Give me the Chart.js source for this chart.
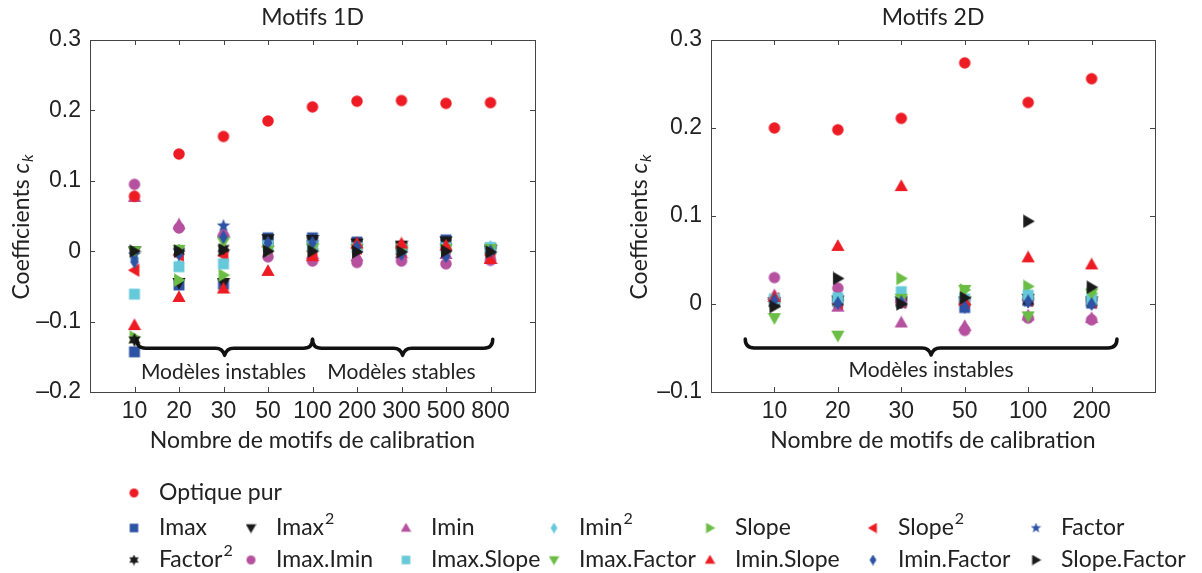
<!DOCTYPE html>
<html>
<head>
<meta charset="utf-8">
<script src="https://cdn.jsdelivr.net/npm/chart.js@4.4.1/dist/chart.umd.min.js"></script>
<style>
    body { margin: 0; background: #fff; }
    #pagina { position: relative; width: 1202px; height: 573px; }
    canvas { position: absolute; }
</style>
</head>
<body>
<div id="pagina">
    <canvas id="graf1D" width="600" height="470" style="left:0;top:0"></canvas>
    <canvas id="graf2D" width="602" height="470" style="left:600px;top:0"></canvas>
    <canvas id="leyenda" width="1202" height="103" style="left:0;top:470px"></canvas>
</div>
<script>
// categorias (nombre de motifs de calibration)
const motifs1D = ["10", "20", "30", "50", "100", "200", "300", "500", "800"];
const motifs2D = ["10", "20", "30", "50", "100", "200"];

const nombres = ["Optique pur", "Imax", "Imax²", "Imin", "Imin²", "Slope", "Slope²", "Factor",
    "Factor²", "Imax.Imin", "Imax.Slope", "Imax.Factor", "Imin.Slope", "Imin.Factor", "Slope.Factor"];

// valores Motifs 1D
const optique1D     = [0.078, 0.138, 0.163, 0.185, 0.205, 0.213, 0.214, 0.210, 0.211];
const imax1D        = [-0.143, -0.048, -0.047, 0.019, 0.019, 0.013, 0.006, 0.016, 0.004];
const imax2_1D      = [0.000, -0.045, -0.045, 0.017, 0.016, 0.011, 0.008, 0.014, 0.002];
const imin1D        = [0.077, 0.038, 0.027, 0.013, -0.004, -0.007, -0.003, -0.004, -0.011];
const imin2_1D      = [-0.010, -0.020, -0.015, 0.010, 0.010, 0.004, 0.004, 0.006, 0.006];
const slope1D       = [-0.122, -0.041, -0.034, 0.001, 0.003, 0.002, 0.002, 0.002, 0.003];
const slope2_1D     = [-0.027, -0.006, -0.006, 0.006, 0.000, 0.004, -0.004, 0.005, -0.006];
const factor1D      = [-0.005, 0.000, 0.036, 0.014, 0.012, 0.006, 0.004, 0.008, 0.002];
const factor2_1D    = [-0.126, 0.000, 0.004, 0.015, 0.015, 0.010, 0.007, 0.012, 0.001];
const imaxImin1D    = [0.095, 0.033, 0.022, -0.008, -0.014, -0.016, -0.014, -0.018, -0.013];
const imaxSlope1D   = [-0.061, -0.022, -0.018, 0.008, 0.007, 0.005, 0.003, 0.005, 0.005];
const imaxFactor1D  = [0.000, 0.002, 0.013, 0.001, 0.004, 0.003, 0.002, 0.003, 0.003];
const iminSlope1D   = [-0.105, -0.065, -0.053, -0.028, -0.007, 0.011, 0.011, 0.008, -0.011];
const iminFactor1D  = [-0.015, -0.004, 0.020, 0.012, 0.012, 0.006, -0.004, -0.007, 0.000];
const slopeFactor1D = [0.000, 0.000, 0.002, 0.000, 0.000, -0.001, -0.001, 0.000, -0.001];

// valores Motifs 2D
const optique2D     = [0.200, 0.198, 0.211, 0.274, 0.229, 0.256];
const imax2D        = [0.003, 0.003, 0.002, -0.004, 0.004, 0.001];
const imax2_2D      = [0.002, 0.004, 0.003, 0.003, 0.006, 0.003];
const imin2D        = [0.010, -0.003, -0.021, -0.025, -0.013, -0.016];
const imin2_2D      = [0.004, 0.006, 0.005, 0.004, 0.010, 0.008];
const slope2D       = [0.002, 0.004, 0.029, 0.016, 0.020, 0.012];
const slope2_2D     = [0.006, 0.001, 0.002, 0.002, 0.004, 0.002];
const factor2D      = [0.003, 0.002, 0.002, 0.002, 0.003, 0.002];
const factor2_2D    = [0.001, 0.003, 0.002, 0.003, 0.003, 0.002];
const imaxImin2D    = [0.030, 0.018, 0.002, -0.030, -0.016, -0.018];
const imaxSlope2D   = [0.006, 0.007, 0.014, 0.006, 0.010, 0.005];
const imaxFactor2D  = [-0.016, -0.036, 0.006, 0.016, -0.014, 0.012];
const iminSlope2D   = [0.008, 0.066, 0.134, 0.004, 0.053, 0.045];
const iminFactor2D  = [0.004, 0.001, 0.002, -0.003, 0.003, 0.000];
const slopeFactor2D = [-0.003, 0.029, 0.000, 0.007, 0.094, 0.019];

const valores1D = [optique1D, imax1D, imax2_1D, imin1D, imin2_1D, slope1D, slope2_1D, factor1D,
    factor2_1D, imaxImin1D, imaxSlope1D, imaxFactor1D, iminSlope1D, iminFactor1D, slopeFactor1D];
const valores2D = [optique2D, imax2D, imax2_2D, imin2D, imin2_2D, slope2D, slope2_2D, factor2D,
    factor2_2D, imaxImin2D, imaxSlope2D, imaxFactor2D, iminSlope2D, iminFactor2D, slopeFactor2D];

const ROJO = "#ed1c24", AZUL = "#2e52a4", NEGRO = "#1a1a1a", MORADO = "#b5519f",
      CIAN = "#66c9d9", VERDE = "#6bbd45";
const estilos = [
    ["circulo", ROJO], ["cuadro", AZUL], ["trAbajo", NEGRO], ["trArriba", MORADO], ["rombo", CIAN],
    ["trDerecha", VERDE], ["trIzquierda", ROJO], ["estrella5", AZUL], ["estrella6", NEGRO],
    ["circulo", MORADO], ["cuadro", CIAN], ["trAbajo", VERDE], ["trArriba", ROJO], ["rombo", AZUL],
    ["trDerecha", NEGRO]
];

function marcador(forma, color, s) {
    const c = document.createElement("canvas");
    c.width = s; c.height = s;
    const g = c.getContext("2d");
    g.fillStyle = color;
    g.translate(s / 2, s / 2);
    const r = s / 2;
    g.beginPath();
    const triangulo = (ang) => {
        g.rotate(ang);
        g.moveTo(0, -r * 0.95);
        g.lineTo(r * 0.95, r * 0.7);
        g.lineTo(-r * 0.95, r * 0.7);
        g.closePath();
    };
    const estrella = (puntas, interno) => {
        for (let i = 0; i < puntas * 2; i++) {
            const rr = i % 2 === 0 ? r : r * interno;
            const a = -Math.PI / 2 + i * Math.PI / puntas;
            if (i === 0) g.moveTo(rr * Math.cos(a), rr * Math.sin(a));
            else g.lineTo(rr * Math.cos(a), rr * Math.sin(a));
        }
        g.closePath();
    };
    switch (forma) {
        case "circulo": g.arc(0, 0, r * 0.82, 0, Math.PI * 2); break;
        case "cuadro": g.rect(-r * 0.78, -r * 0.78, r * 1.56, r * 1.56); break;
        case "trArriba": triangulo(0); break;
        case "trAbajo": triangulo(Math.PI); break;
        case "trDerecha": triangulo(Math.PI / 2); break;
        case "trIzquierda": triangulo(-Math.PI / 2); break;
        case "rombo":
            g.moveTo(0, -r); g.lineTo(r * 0.62, 0); g.lineTo(0, r); g.lineTo(-r * 0.62, 0); g.closePath();
            break;
        case "estrella5": estrella(5, 0.42); break;
        case "estrella6": estrella(6, 0.55); break;
    }
    g.fill();
    return c;
}

const marcadores = estilos.map(([f, c]) => marcador(f, c, 14));
const marcadoresLeyenda = estilos.map(([f, c]) => marcador(f, c, 11));

function construirDatasets(valores) {
    return valores.map((serie, i) => ({
        label: nombres[i],
        data: serie.map((v, j) => ({ x: j + 1, y: v })),
        pointStyle: marcadores[i],
        pointRadius: 7,
        order: i === 0 ? 0 : nombres.length - i
    }));
}

const fuenteTicks = { family: "Liberation Sans", size: 23 };
const TEXTO = "#222";

function formatoY(v) {
    const r = Math.round(v * 10) / 10;
    if (r === 0) return "0";
    return (r < 0 ? "–" : "") + Math.abs(r).toFixed(1);
}

// marco, ticks interiores, titulos y llaves
function marcoPlugin(cfg) {
    return {
        id: "marco",
        afterDraw(chart) {
            const ctx = chart.ctx;
            const a = chart.chartArea;
            const sx = chart.scales.x, sy = chart.scales.y;
            ctx.save();
            ctx.strokeStyle = "#444";
            ctx.lineWidth = 1;
            ctx.strokeRect(a.left + 0.5, a.top + 0.5, a.right - a.left, a.bottom - a.top);
            ctx.beginPath();
            for (let i = 1; i <= cfg.categorias.length; i++) {
                const px = Math.round(sx.getPixelForValue(i)) + 0.5;
                ctx.moveTo(px, a.bottom); ctx.lineTo(px, a.bottom - 5);
                ctx.moveTo(px, a.top); ctx.lineTo(px, a.top + 5);
            }
            sy.ticks.forEach(t => {
                const py = Math.round(sy.getPixelForValue(t.value)) + 0.5;
                ctx.moveTo(a.left, py); ctx.lineTo(a.left + 5, py);
                ctx.moveTo(a.right, py); ctx.lineTo(a.right - 5, py);
            });
            ctx.stroke();

            const cx = (a.left + a.right) / 2;
            ctx.fillStyle = TEXTO;
            ctx.textAlign = "center";
            ctx.textBaseline = "middle";
            ctx.font = "23px Lato";
            ctx.fillText(cfg.titulo, cx, 18);
            ctx.fillText("Nombre de motifs de calibration", cx, 441);

            // titulo eje y: Coefficients c_k
            ctx.save();
            ctx.translate(cfg.ejeYx, 227);
            ctx.rotate(-Math.PI / 2);
            ctx.textAlign = "left";
            ctx.font = "23px Lato";
            const t1 = "Coefficients ";
            const w1 = ctx.measureText(t1).width;
            ctx.font = "italic 23px Lato";
            const w2 = ctx.measureText("c").width;
            ctx.font = "italic 16px Lato";
            const w3 = ctx.measureText("k").width;
            const x0 = -(w1 + w2 + w3 + 1) / 2;
            ctx.font = "23px Lato";
            ctx.fillText(t1, x0, 0);
            ctx.font = "italic 23px Lato";
            ctx.fillText("c", x0 + w1, 0);
            ctx.font = "italic 16px Lato";
            ctx.fillText("k", x0 + w1 + w2 + 1, 6);
            ctx.restore();

            // llaves
            ctx.strokeStyle = "#111";
            ctx.lineWidth = 3.5;
            ctx.lineJoin = "round";
            ctx.lineCap = "round";
            cfg.llaves.forEach(l => {
                const x1 = sx.getPixelForValue(l.desde), x2 = sx.getPixelForValue(l.hasta);
                const xm = (x1 + x2) / 2, y = sy.getPixelForValue(l.y), h = 9;
                ctx.beginPath();
                ctx.moveTo(x1, y - h);
                ctx.quadraticCurveTo(x1, y, x1 + h, y);
                ctx.lineTo(xm - h, y);
                ctx.quadraticCurveTo(xm - 2, y, xm, y + 7);
                ctx.quadraticCurveTo(xm + 2, y, xm + h, y);
                ctx.lineTo(x2 - h, y);
                ctx.quadraticCurveTo(x2, y, x2, y - h);
                ctx.stroke();
            });
            ctx.font = "21px Lato";
            ctx.textAlign = "center";
            cfg.textos.forEach(t => {
                ctx.fillText(t.t, sx.getPixelForValue(t.x), sy.getPixelForValue(t.y));
            });
            ctx.restore();
        }
    };
}

function crearGrafica(id, categorias, valores, cfg) {
    new Chart(document.getElementById(id), {
        type: "scatter",
        data: { datasets: construirDatasets(valores) },
        options: {
            responsive: false,
            animation: false,
            layout: { padding: { left: 0, top: 40, right: cfg.derecha, bottom: 0 } },
            plugins: { legend: { display: false }, tooltip: { enabled: false } },
            scales: {
                x: {
                    type: "linear", min: 0, max: categorias.length + 1,
                    grid: { display: false, drawTicks: false },
                    border: { display: false },
                    ticks: {
                        stepSize: 1, autoSkip: false, maxRotation: 0, padding: 6,
                        font: fuenteTicks, color: TEXTO,
                        callback: v => categorias[v - 1] || ""
                    },
                    afterFit: s => { s.height = 78; }
                },
                y: {
                    min: cfg.ymin, max: 0.3,
                    grid: { display: false, drawTicks: false },
                    border: { display: false },
                    ticks: { stepSize: 0.1, padding: 9, font: fuenteTicks, color: TEXTO, callback: formatoY },
                    afterFit: s => { s.width = cfg.izquierda; }
                }
            }
        },
        plugins: [marcoPlugin(Object.assign({ categorias }, cfg))]
    });
}

crearGrafica("graf1D", motifs1D, valores1D, {
    titulo: "Motifs 1D", izquierda: 90, derecha: 65, ymin: -0.2, ejeYx: 22,
    llaves: [{ desde: 1.05, hasta: 5, y: -0.138 }, { desde: 5, hasta: 9.05, y: -0.138 }],
    textos: [{ x: 3, y: -0.172, t: "Modèles instables" }, { x: 7, y: -0.172, t: "Modèles stables" }]
});
crearGrafica("graf2D", motifs2D, valores2D, {
    titulo: "Motifs 2D", izquierda: 111, derecha: 47, ymin: -0.1, ejeYx: 40,
    llaves: [{ desde: 0.54, hasta: 6.4, y: -0.05 }],
    textos: [{ x: 3.47, y: -0.075, t: "Modèles instables" }]
});

// leyenda
function dibujarLeyenda() {
    const g = document.getElementById("leyenda").getContext("2d");
    const columnas = [134, 251, 406, 554, 710, 873, 1036];
    const filas = [23, 58, 90];
    g.fillStyle = TEXTO;
    g.textBaseline = "middle";
    const item = (i, x, y) => {
        g.drawImage(marcadoresLeyenda[i], x - 5.5, y - 5.5);
        const txt = nombres[i];
        const tx = x + 25;
        g.font = "23px Lato";
        if (txt.endsWith("²")) {
            const base = txt.slice(0, -1);
            g.fillText(base, tx, y);
            const w = g.measureText(base).width;
            g.font = "16px Lato";
            g.fillText("2", tx + w + 1, y - 9);
        } else {
            g.fillText(txt, tx, y);
        }
    };
    item(0, columnas[0], filas[0]);
    for (let i = 1; i <= 7; i++) item(i, columnas[i - 1], filas[1]);
    for (let i = 8; i <= 14; i++) item(i, columnas[i - 8], filas[2]);
}
dibujarLeyenda();
</script>
</body>
</html>
